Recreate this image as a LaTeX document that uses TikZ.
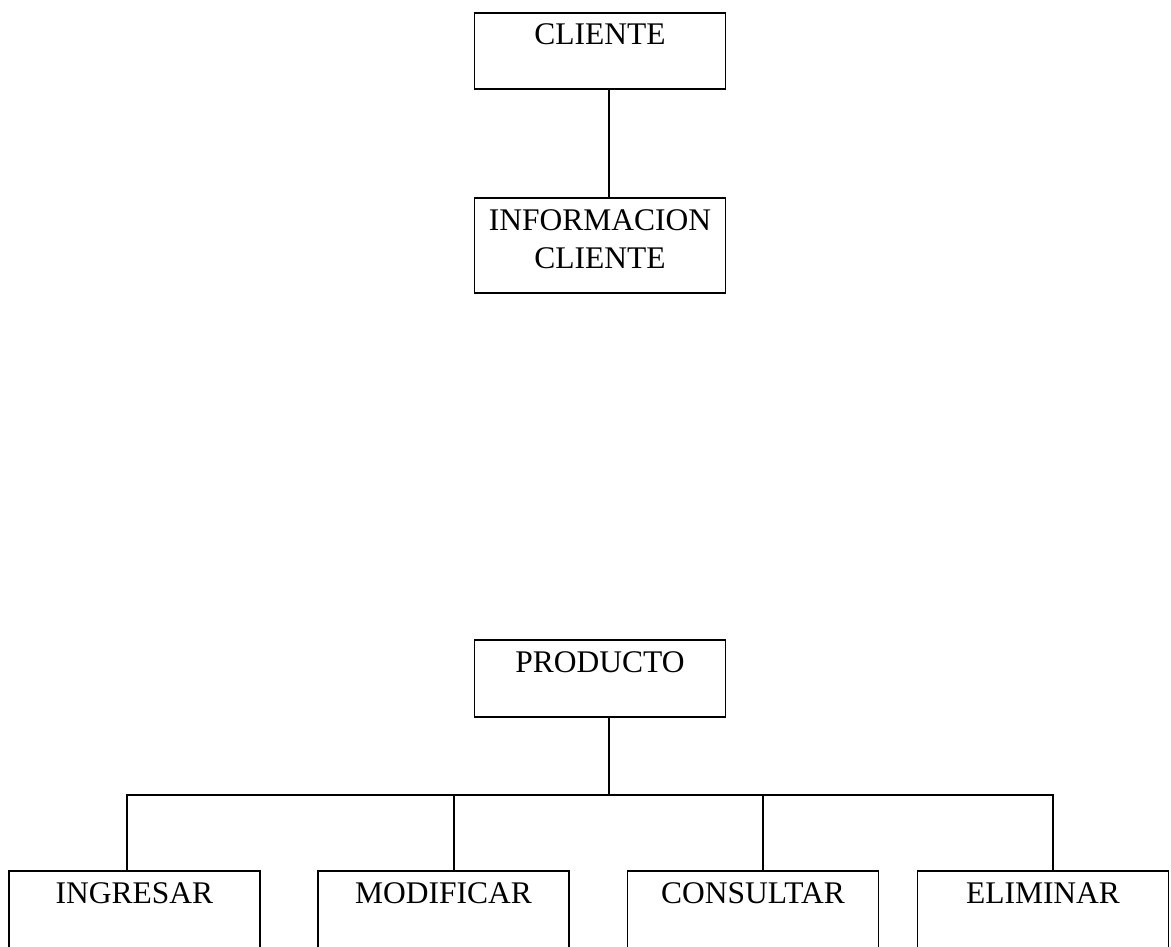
\documentclass[tikz,border=0pt]{standalone}
\usepackage{fontspec}
\setmainfont{Liberation Serif}
\begin{document}
\begin{tikzpicture}[x=1pt, y=-1pt, line width=1.8pt,
        box/.style={draw=black, rectangle, minimum width=251pt, inner sep=0pt, align=center,
            font=\fontsize{31.5}{38}\selectfont, text height=32pt}]
        \useasboundingbox (0,0) rectangle (1171,947);

        \node[box, text depth=44pt] (cliente) at (600, 51) {CLIENTE};
        \node[box, text height=70pt, text depth=25pt] (info) at (600, 245.5) {INFORMACION\\CLIENTE};

        \node[box, text depth=45pt] (producto) at (600, 678.5) {PRODUCTO};
        \node[box, text depth=45pt] (ingresar) at (134.5, 909.5) {INGRESAR};
        \node[box, text depth=45pt] (modificar) at (443.5, 909.5) {MODIFICAR};
        \node[box, text depth=45pt] (consultar) at (753, 909.5) {CONSULTAR};
        \node[box, text depth=45pt] (eliminar) at (1043, 909.5) {ELIMINAR};

        \coordinate (bar) at (609, 795);

        \draw[-] ([xshift=9pt]cliente.south) to ([xshift=9pt]info.north);

        \draw[-] ([xshift=9pt]producto.south) to (bar);
        \draw[-] ([xshift=-7.5pt]ingresar.north) |- (bar);
        \draw[-] ([xshift=10.5pt]modificar.north) |- (bar);
        \draw[-] ([xshift=10pt]consultar.north) |- (bar);
        \draw[-] ([xshift=10pt]eliminar.north) |- (bar);

    \end{tikzpicture}
\end{document}
